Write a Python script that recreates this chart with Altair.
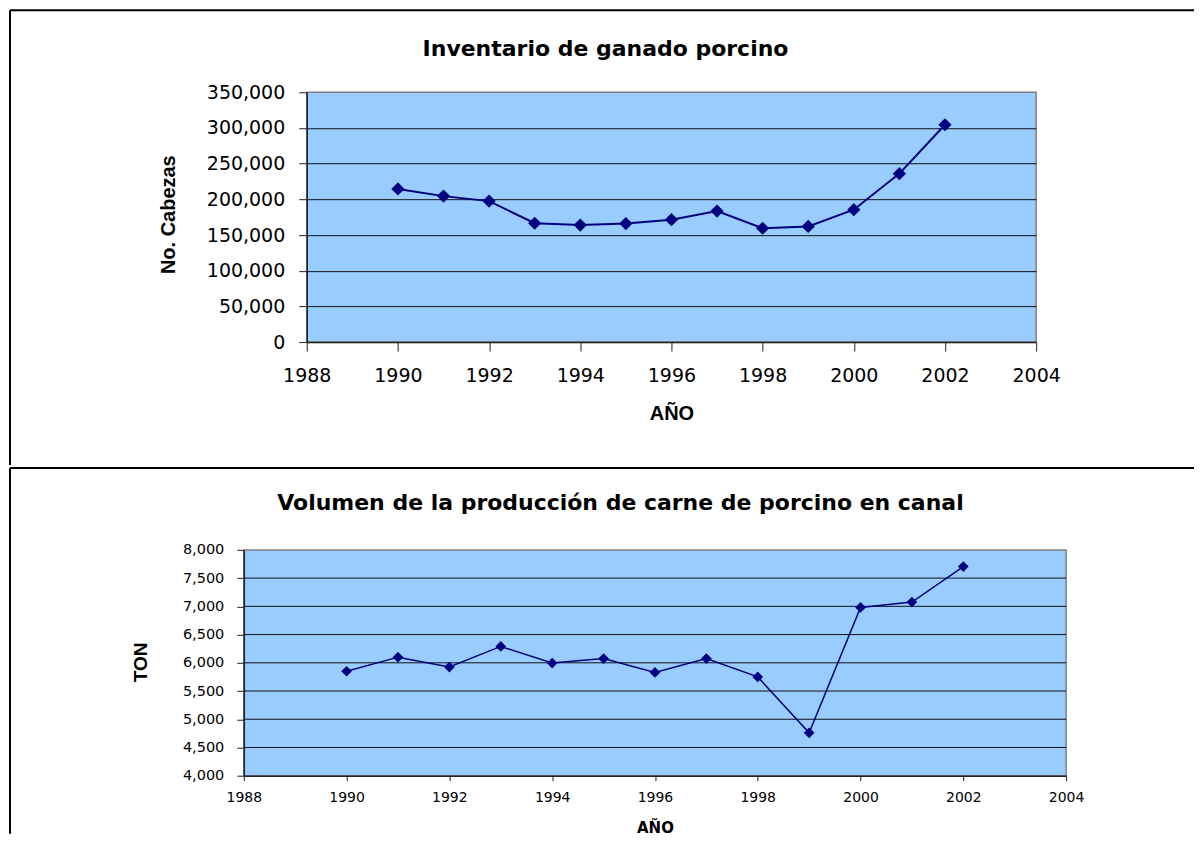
import altair as alt
import pandas as pd

# ---------------- data ----------------
years = [1990, 1991, 1992, 1993, 1994, 1995, 1996, 1997, 1998, 1999, 2000, 2001, 2002]
inventario = [214500, 204500, 197500, 166500, 164000, 166000, 171500, 183500,
              159500, 162000, 185500, 236000, 304500]
produccion = [5850, 6100, 5925, 6290, 5995, 6075, 5830, 6075, 5750, 4760, 6980, 7075, 7705]

x_ticks = [1988, 1990, 1992, 1994, 1996, 1998, 2000, 2002, 2004]
inv_ticks = [0, 50000, 100000, 150000, 200000, 250000, 300000, 350000]
prod_ticks = [4000, 4500, 5000, 5500, 6000, 6500, 7000, 7500, 8000]
x_domain = [1988, 2004]
inv_domain = [0, 350000]
prod_domain = [4000, 8000]

title_top = "Inventario de ganado porcino"
title_bottom = "Volumen de la producción de carne de porcino en canal"
ytitle_top = "No. Cabezas"
ytitle_bottom = "TON"
xtitle = "AÑO"

NAVY = "#000080"
BLUE = "#99CCFF"
GREY = "#808080"
AXIS = "#222222"

df_inv = pd.DataFrame({"year": years, "value": inventario})
df_prod = pd.DataFrame({"year": years, "value": produccion})
df_bg = pd.DataFrame({"year": [x_domain[0]], "year2": [x_domain[1]],
                      "value": [prod_domain[0]], "value2": [prod_domain[1]]})
grid_vals = prod_ticks[1:-1]
df_grid = pd.DataFrame({"year": [x_domain[0]] * len(grid_vals),
                        "year2": [x_domain[1]] * len(grid_vals),
                        "value": grid_vals})
one = pd.DataFrame({"k": [0]})

# ---------------- top chart ----------------
x_top = alt.X(
    "year:Q",
    scale=alt.Scale(domain=x_domain, nice=False, zero=False),
    axis=alt.Axis(values=x_ticks, format="d", title=xtitle, grid=False,
                  labelFont="DejaVu Sans", labelFontSize=19, labelColor="black",
                  labelPadding=15, tickSize=9, tickColor=AXIS, tickWidth=1,
                  domainColor=AXIS, domainWidth=1.5, labelFlush=False, labelOverlap=False,
                  titleFont="Liberation Sans", titleFontSize=20, titleFontWeight="bold",
                  titleColor="black", titleY=77, titleBaseline="alphabetic"),
)
y_top = alt.Y(
    "value:Q",
    scale=alt.Scale(domain=inv_domain, nice=False, zero=False),
    axis=alt.Axis(values=inv_ticks, format=",d", title=ytitle_top,
                  grid=True, gridColor="#111111", gridWidth=1,
                  gridOpacity={"condition": {"test": "datum.value >= 350000", "value": 0}, "value": 1},
                  labelFont="DejaVu Sans", labelFontSize=19, labelColor="black",
                  labelPadding=14, tickSize=8, tickColor=AXIS, tickWidth=1,
                  domainColor=AXIS, domainWidth=1.5, labelOverlap=False,
                  titleFont="Liberation Sans", titleFontSize=20, titleFontWeight="bold",
                  titleColor="black", titleX=-132, titleY=122, titleBaseline="alphabetic"),
)

base_top = alt.Chart(df_inv).encode(x=x_top, y=y_top)
line_top = base_top.mark_line(color=NAVY, strokeWidth=2)
pts_top = base_top.mark_point(shape="diamond", filled=True, size=175, color=NAVY, opacity=1)

frame_top_h = alt.Chart(one).mark_rule(color="black", strokeWidth=2).encode(
    x=alt.value(-297), x2=alt.value(888), y=alt.value(-82))
frame_top_v = alt.Chart(one).mark_rule(color="black", strokeWidth=2).encode(
    x=alt.value(-297), y=alt.value(-82), y2=alt.value(373))

top = alt.layer(line_top, pts_top, frame_top_h, frame_top_v).properties(
    width=730, height=250,
    title=alt.TitleParams(title_top, font="DejaVu Sans", fontSize=22, fontWeight="bold",
                          color="black", anchor="middle", offset=-69, dx=-66,
                          baseline="alphabetic"),
    view=alt.ViewBackground(fill=BLUE, stroke=GREY, strokeWidth=1.5),
)

# ---------------- bottom chart ----------------
x_bot = alt.X(
    "year:Q",
    scale=alt.Scale(domain=x_domain, range=[-63, 760], nice=False, zero=False),
    axis=alt.Axis(values=x_ticks, format="d", title=xtitle, grid=False, zindex=1,
                  labelFont="DejaVu Sans", labelFontSize=14, labelColor="black",
                  labelPadding=10, tickSize=5, tickColor=AXIS, tickWidth=1,
                  domainColor=AXIS, domainWidth=1.5, labelFlush=False, labelOverlap=False,
                  titleFont="DejaVu Sans", titleFontSize=15, titleFontWeight="bold",
                  titleColor="black", titleY=57, titleBaseline="alphabetic"),
)
y_bot = alt.Y(
    "value:Q",
    scale=alt.Scale(domain=prod_domain, nice=False, zero=False),
    axis=alt.Axis(values=prod_ticks, format=",d", title=ytitle_bottom, grid=False,
                  offset=63, zindex=1,
                  labelFont="DejaVu Sans", labelFontSize=14.5, labelColor="black",
                  labelPadding=13, tickSize=7, tickColor=AXIS, tickWidth=1,
                  domainColor=AXIS, domainWidth=1.5, labelOverlap=False,
                  titleFont="Liberation Sans", titleFontSize=19, titleFontWeight="bold",
                  titleColor="black", titleX=-97, titleY=112, titleBaseline="alphabetic"),
)

bg_bot = alt.Chart(df_bg).mark_rect(fill=BLUE, stroke=GREY, strokeWidth=1.5).encode(
    x=x_bot, x2="year2:Q", y=y_bot, y2="value2:Q")
grid_bot = alt.Chart(df_grid).mark_rule(color="#111111", strokeWidth=1).encode(
    x=x_bot, x2="year2:Q", y=y_bot)
base_bot = alt.Chart(df_prod).encode(x=x_bot, y=y_bot)
line_bot = base_bot.mark_line(color=NAVY, strokeWidth=1.5)
pts_bot = base_bot.mark_point(shape="diamond", filled=True, size=115, color=NAVY, opacity=1)

frame_bot_h = alt.Chart(one).mark_rule(color="black", strokeWidth=2).encode(
    x=alt.value(-297), x2=alt.value(888), y=alt.value(-82))
frame_bot_v = alt.Chart(one).mark_rule(color="black", strokeWidth=2).encode(
    x=alt.value(-297), y=alt.value(-82), y2=alt.value(284))

bottom = alt.layer(bg_bot, grid_bot, line_bot, pts_bot, frame_bot_h, frame_bot_v).properties(
    width=760, height=226,
    title=alt.TitleParams(title_bottom, font="DejaVu Sans", fontSize=22, fontWeight="bold",
                          color="black", anchor="middle", offset=-65, dx=-66,
                          baseline="alphabetic"),
)

chart = alt.vconcat(top, bottom, spacing=0).properties(
    padding=0, background="white"
).configure_view(strokeWidth=0)

chart.save("out.html", embed_options={"renderer": "svg", "actions": False})
